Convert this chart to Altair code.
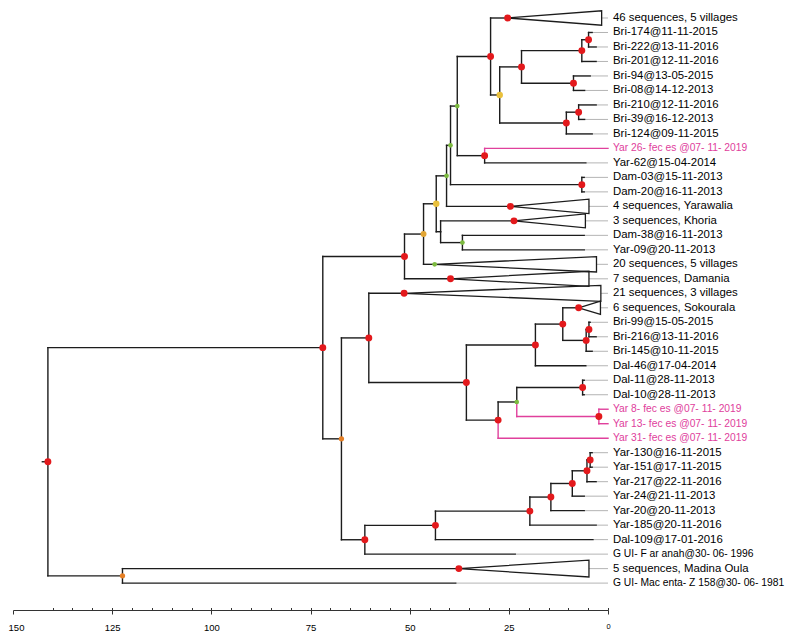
import altair as alt
import pandas as pd

# ---------------- data ----------------
# internal nodes: name, parent, age (units before present), node marker class
node_name = ["root", "A", "B", "Q", "N8", "N7", "N4", "N3", "N2", "N1",
             "BriBig", "Ybri", "BriA", "BriA1", "BriA1a", "BriA2", "BriB", "BriB1",
             "Y26", "Dam", "N5", "N6", "P1", "P2", "P3", "P5", "P6", "P7", "P4",
             "P8", "P9", "P10", "Q2", "Q3", "Q4", "Q5", "Q6", "Q7", "Q8"]
node_parent = ["", "root", "root", "A", "A", "N8", "N7", "N4", "N3", "N2",
               "N1", "BriBig", "Ybri", "BriA", "BriA1", "BriA", "Ybri", "BriB",
               "N1", "N2", "N4", "N5", "Q", "P1", "P2", "P3", "P5", "P6", "P2",
               "P4", "P8", "P8", "Q", "Q2", "Q3", "Q4", "Q5", "Q6", "Q7"]
node_age = [141.2, 71.9, 122.4, 67.2, 51.3, 46.5, 43.3, 40.7, 39.7, 38.0,
            29.6, 27.3, 21.8, 6.6, 4.9, 8.7, 10.5, 7.4,
            31.1, 6.6, 42.2, 36.7, 60.3, 35.7, 18.3, 11.4, 5.5, 4.8, 27.7,
            23.0, 6.4, 2.3, 61.3, 43.5, 19.7, 14.4, 9.0, 5.3, 4.5]
node_support = ["red", "red", "orange", "orange", "red", "gold", "yellow", "green", "green", "green",
                "red", "yellow", "red", "red", "red", "red", "red", "red",
                "red", "red", "none", "green", "red", "red", "red", "red", "red", "red", "red",
                "green", "red", "red", "red", "red", "red", "red", "red", "red", "red"]
node_pink = ["P10"]

# tips (top to bottom)
leaf_label = [
    "46 sequences, 5 villages", "Bri-174@11-11-2015", "Bri-222@13-11-2016",
    "Bri-201@12-11-2016", "Bri-94@13-05-2015", "Bri-08@14-12-2013",
    "Bri-210@12-11-2016", "Bri-39@16-12-2013", "Bri-124@09-11-2015",
    "Yar 26- fec es @07- 11- 2019", "Yar-62@15-04-2014", "Dam-03@15-11-2013",
    "Dam-20@16-11-2013", "4 sequences, Yarawalia", "3 sequences, Khoria",
    "Dam-38@16-11-2013", "Yar-09@20-11-2013", "20 sequences, 5 villages",
    "7 sequences, Damania", "21 sequences, 3 villages", "6 sequences, Sokourala",
    "Bri-99@15-05-2015", "Bri-216@13-11-2016", "Bri-145@10-11-2015",
    "Dal-46@17-04-2014", "Dal-11@28-11-2013", "Dal-10@28-11-2013",
    "Yar 8- fec es @07- 11- 2019", "Yar 13- fec es @07- 11- 2019",
    "Yar 31- fec es @07- 11- 2019", "Yar-130@16-11-2015", "Yar-151@17-11-2015",
    "Yar-217@22-11-2016", "Yar-24@21-11-2013", "Yar-20@20-11-2013",
    "Yar-185@20-11-2016", "Dal-109@17-01-2016", "G UI- F ar anah@30- 06- 1996",
    "5 sequences, Madina Oula", "G UI- Mac enta- Z 158@30- 06- 1981"]
leaf_parent = ["BriBig", "BriA1a", "BriA1a", "BriA1", "BriA2", "BriA2", "BriB1", "BriB1", "BriB",
               "Y26", "Y26", "Dam", "Dam", "N3", "N5", "N6", "N6", "N7", "N8", "P1", "P5",
               "P7", "P7", "P6", "P3", "P9", "P9", "P10", "P10", "P4", "Q8", "Q8", "Q7",
               "Q6", "Q5", "Q4", "Q3", "Q2", "B", "B"]
leaf_age = [25.3, 4.0, 3.0, 3.0, 4.5, 5.9, 3.0, 5.9, 4.0,
            0.0, 5.6, 6.0, 6.0, 24.6, 23.7, 6.0, 6.0, 43.7, 39.7, 51.4, 7.4,
            4.5, 3.0, 4.0, 5.6, 6.0, 6.0, 0.0, 0.0, 0.0, 4.0, 4.0, 3.0,
            6.0, 6.0, 3.0, 3.8, 23.4, 37.6, 38.4]
leaf_pink = [9, 27, 28, 29]
# labels whose word gaps are printed narrow in the figure (set a bit smaller)
tight_rows = [9, 27, 28, 29, 37, 39]

# collapsed clades (triangles)
clade_row = [0, 13, 14, 17, 18, 19, 20, 38]
clade_tip_age = [1.6, 4.8, 5.7, 2.9, 4.8, 1.8, 1.9, 4.8]
clade_half = [0.5, 0.5, 0.48, 0.53, 0.52, 0.55, 0.46, 0.58]
clade_support = ["red", "red", "red", "green", "red", "red", "red", "red"]

axis_major = [150, 125, 100, 75, 50, 25, 0]
axis_minor = [140, 135, 130, 125, 120, 115, 110, 105, 100, 95, 90, 85, 80, 75, 70, 65, 60,
              55, 50, 45, 40, 35, 30, 25, 20, 15, 10, 5, 0]

# ---------------- layout of the tree ----------------
DARK = "#1c1c1c"
PINK = "#e0409c"
age = dict(zip(node_name, node_age))
children = {n: [] for n in node_name}
for n, p in zip(node_name, node_parent):
    if p:
        children[p].append(("n", n))
for i, p in enumerate(leaf_parent):
    children[p].append(("l", i))

ypos = {}


def ny(kind, key):
    if kind == "l":
        return float(key)
    if key in ypos:
        return ypos[key]
    ys = [ny(k, c) for k, c in children[key]]
    ypos[key] = (min(ys) + max(ys)) / 2
    return ypos[key]


ny("n", "root")

segs = []
for n, p in zip(node_name, node_parent):
    if not p:
        continue
    col = PINK if n in node_pink else DARK
    segs.append(dict(x1=age[p], y1=ypos[p], x2=age[p], y2=ypos[n], col=col))
    segs.append(dict(x1=age[p], y1=ypos[n], x2=age[n], y2=ypos[n], col=col))
for i, p in enumerate(leaf_parent):
    col = PINK if i in leaf_pink else DARK
    segs.append(dict(x1=age[p], y1=ypos[p], x2=age[p], y2=float(i), col=col))
    segs.append(dict(x1=age[p], y1=float(i), x2=leaf_age[i], y2=float(i), col=col))
segs.append(dict(x1=142.6, y1=ypos["root"], x2=age["root"], y2=ypos["root"], col=DARK))
seg_df = pd.DataFrame(segs)

ext = []
for i in range(len(leaf_label)):
    right = leaf_age[i]
    if i in clade_row:
        right = clade_tip_age[clade_row.index(i)]
    if right > 0:
        ext.append(dict(x1=right, x2=0.0, y=float(i)))
ext_df = pd.DataFrame(ext)

tri = []
for j, r in enumerate(clade_row):
    a, t, h = leaf_age[r], clade_tip_age[j], clade_half[j]
    pts = [(a, r), (t, r - h), (t, r + h), (a, r)]
    for k, (xx, yy) in enumerate(pts):
        tri.append(dict(clade=j, k=k, x=xx, y=yy))
tri_df = pd.DataFrame(tri)

pts = []
for n, s in zip(node_name, node_support):
    if s != "none":
        pts.append(dict(x=age[n], y=ypos[n], s=s))
for j, r in enumerate(clade_row):
    pts.append(dict(x=leaf_age[r], y=float(r), s=clade_support[j]))
pt_df = pd.DataFrame(pts)

lab_df = pd.DataFrame(dict(
    label=leaf_label,
    row=[float(i) for i in range(len(leaf_label))],
    tcol=[PINK if i in leaf_pink else "#000000" for i in range(len(leaf_label))],
    fs=[10.3 if i in tight_rows else 11.4 for i in range(len(leaf_label))],
))

# ---------------- chart ----------------
W, H = 595, 602
xs = alt.Scale(domain=[150, 0], nice=False, zero=False)
ys = alt.Scale(domain=[-0.69, 40.856], nice=False, zero=False, reverse=True)

branches = alt.Chart(seg_df).mark_rule(strokeWidth=1.4, strokeCap="square").encode(
    x=alt.X("x1:Q", scale=xs, axis=alt.Axis(
        values=axis_major, title=None, grid=False, tickSize=4, tickColor="#333",
        domainColor="#333", domainWidth=1, tickWidth=1, labelFlush=False,
        labelOverlap=False, labelPadding=8, labelColor="#000",
        labelFont="Liberation Sans",
        labelOffset={"expr": "datum.value == 150 ? 3 : 0"},
        labelFontSize={"expr": "datum.value == 0 ? 7.5 : 9.5"})),
    x2="x2:Q",
    y=alt.Y("y1:Q", scale=ys, axis=None),
    y2="y2:Q",
    color=alt.Color("col:N", scale=None),
)

extensions = alt.Chart(ext_df).mark_rule(strokeWidth=1, color="#b4b4b4").encode(
    x=alt.X("x1:Q", scale=xs, axis=alt.Axis(
        orient="top", offset=-H, values=axis_minor, labels=False, domain=False,
        grid=False, title=None, tickSize=2.5, tickColor="#333", tickWidth=1)),
    x2="x2:Q",
    y=alt.Y("y:Q", scale=ys, axis=None),
)

triangles = alt.Chart(tri_df).mark_line(strokeWidth=1.3, color=DARK).encode(
    x=alt.X("x:Q", scale=xs, axis=None),
    y=alt.Y("y:Q", scale=ys, axis=None),
    detail="clade:N",
    order="k:O",
)

markers = alt.Chart(pt_df).mark_circle(opacity=1).encode(
    x=alt.X("x:Q", scale=xs, axis=None),
    y=alt.Y("y:Q", scale=ys, axis=None),
    color=alt.Color("s:N", legend=None, scale=alt.Scale(
        domain=["red", "yellow", "gold", "orange", "green"],
        range=["#e3191c", "#e9c03c", "#e2a635", "#e57f25", "#7cba3f"])),
    size=alt.Size("s:N", legend=None, scale=alt.Scale(
        domain=["red", "yellow", "gold", "orange", "green"],
        range=[48, 22, 22, 22, 8])),
)

labels = alt.Chart(lab_df).mark_text(
    align="left", baseline="middle", dx=5, font="Liberation Sans"
).encode(
    x=alt.XDatum(0, scale=xs, axis=None),
    y=alt.Y("row:Q", scale=ys, axis=None),
    text="label:N",
    size=alt.Size("fs:Q", scale=None, legend=None),
    color=alt.Color("tcol:N", scale=None),
)

chart = alt.layer(extensions, branches, triangles, markers, labels).resolve_axis(
    x="independent"
).properties(
    width=W, height=H,
    autosize=alt.AutoSizeParams(type="none"),
    padding={"left": 5, "top": 0, "right": 177, "bottom": 24},
    background="white",
).configure_view(stroke=None)

chart.save("out.html", embed_options={"renderer": "svg", "actions": False})
